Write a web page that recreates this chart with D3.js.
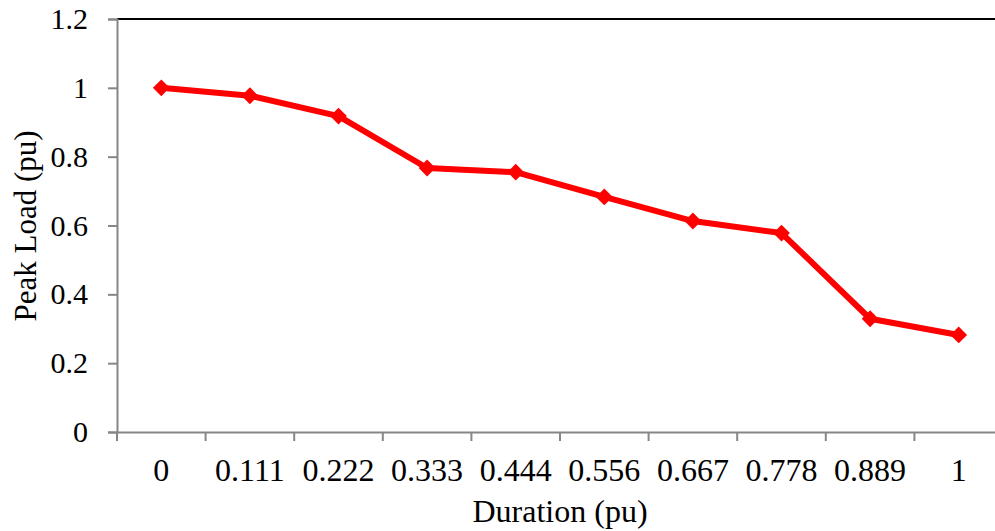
<!DOCTYPE html>
<html>
<head>
<meta charset="utf-8">
<script src="https://cdn.jsdelivr.net/npm/d3@7"></script>
<style>
  body { margin: 0; background: #fff; }
  text { font-family: "Liberation Serif", "Times New Roman", serif; fill: #000; }
</style>
</head>
<body>
<script>
const categories = ['0', '0.111', '0.222', '0.333', '0.444', '0.556', '0.667', '0.778', '0.889', '1'];
const peakLoad = [1.0, 0.977, 0.918, 0.767, 0.755, 0.683, 0.613, 0.578, 0.329, 0.282];
const yTicks = [0, 0.2, 0.4, 0.6, 0.8, 1, 1.2];

const width = 995, height = 531;
const margin = {top: 19, left: 117, bottom: 99};
const plotRight = 1003;

const svg = d3.select('body')
    .append('svg')
    .attr('width', width)
    .attr('height', height);

const scaleX = d3.scaleBand()
    .domain(categories)
    .range([margin.left, plotRight]);

const scaleY = d3.scaleLinear()
    .domain([0, 1.2])
    .range([height - margin.bottom, margin.top]);

// top border
svg.append('line')
    .attr('x1', margin.left).attr('x2', width)
    .attr('y1', scaleY(1.2)).attr('y2', scaleY(1.2))
    .attr('stroke', '#000').attr('stroke-width', 2);

const y_axis = d3.axisLeft(scaleY)
    .tickValues(yTicks)
    .tickFormat(d3.format('~g'))
    .tickSize(9)
    .tickPadding(20);

const gY = svg.append('g')
    .attr('transform', 'translate(' + margin.left + ',0)')
    .call(y_axis);

const x_axis = d3.axisBottom(scaleX)
    .tickSize(0)
    .tickPadding(26);

const gX = svg.append('g')
    .attr('transform', 'translate(0,' + scaleY(0) + ')')
    .call(x_axis);

// category boundary ticks
gX.selectAll('.sep')
    .data(d3.range(categories.length + 1))
    .enter()
    .append('line')
    .attr('class', 'sep')
    .attr('x1', i => margin.left + i * scaleX.step())
    .attr('x2', i => margin.left + i * scaleX.step())
    .attr('y1', 0).attr('y2', 9)
    .attr('stroke', '#868686').attr('stroke-width', 2);

[gX, gY].forEach(g => {
    g.select('.domain').attr('stroke', '#868686').attr('stroke-width', 2);
    g.selectAll('.tick line').attr('stroke', '#868686').attr('stroke-width', 2);
    g.selectAll('.tick text')
        .style('font-family', '"Liberation Serif", serif')
        .attr('fill', '#000');
});
gX.selectAll('.tick text').style('font-size', '32px');
gY.selectAll('.tick text').style('font-size', '30px');

const line = d3.line()
    .x((d, i) => scaleX(categories[i]) + scaleX.bandwidth() / 2)
    .y(d => scaleY(d));

svg.append('path')
    .datum(peakLoad)
    .attr('d', line)
    .attr('fill', 'none')
    .attr('stroke', '#ff0000')
    .attr('stroke-width', 6)
    .attr('stroke-linejoin', 'round');

svg.selectAll('.marker')
    .data(peakLoad)
    .enter()
    .append('path')
    .attr('class', 'marker')
    .attr('d', d3.symbol().type(d3.symbolDiamond2).size(180))
    .attr('transform', (d, i) => 'translate(' + (scaleX(categories[i]) + scaleX.bandwidth() / 2) + ',' + scaleY(d) + ')')
    .attr('fill', '#ff0000');

// axis titles
svg.append('text')
    .attr('x', (margin.left + plotRight) / 2)
    .attr('y', 522)
    .attr('text-anchor', 'middle')
    .style('font-size', '32px')
    .text('Duration (pu)');

svg.append('text')
    .attr('transform', 'translate(36,226) rotate(-90)')
    .attr('text-anchor', 'middle')
    .style('font-size', '31px')
    .text('Peak Load (pu)');
</script>
</body>
</html>
